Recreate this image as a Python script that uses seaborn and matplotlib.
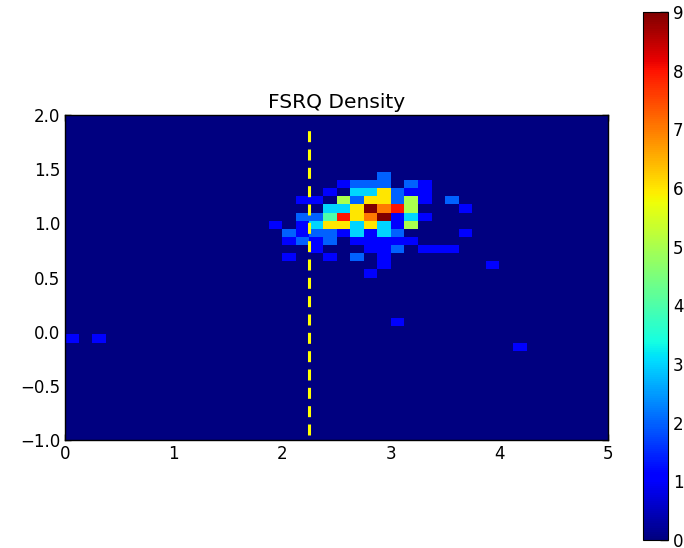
import matplotlib
matplotlib.use("Agg")
import matplotlib.pyplot as plt
import seaborn as sns

# bin centres of the non-empty cells and their counts, row by row (top to bottom)
x_vals = [2.9375,
          2.5625, 2.6875, 2.8125, 2.9375, 3.1875, 3.3125,
          2.4375, 2.6875, 2.8125, 2.9375, 3.0625, 3.1875, 3.3125,
          2.1875, 2.3125, 2.5625, 2.6875, 2.8125, 2.9375, 3.0625, 3.1875, 3.3125, 3.5625,
          2.4375, 2.5625, 2.6875, 2.8125, 2.9375, 3.0625, 3.1875, 3.6875,
          2.1875, 2.3125, 2.4375, 2.5625, 2.6875, 2.8125, 2.9375, 3.0625, 3.1875, 3.3125,
          1.9375, 2.1875, 2.3125, 2.4375, 2.5625, 2.6875, 2.8125, 2.9375, 3.0625, 3.1875,
          2.0625, 2.1875, 2.3125, 2.4375, 2.5625, 2.6875, 2.8125, 2.9375, 3.0625, 3.6875,
          2.0625, 2.1875, 2.3125, 2.4375, 2.6875, 2.8125, 2.9375, 3.0625, 3.1875,
          2.3125, 2.8125, 2.9375, 3.0625, 3.3125, 3.4375, 3.5625,
          2.0625, 2.4375, 2.6875, 2.9375,
          2.9375, 3.9375,
          2.8125,
          3.0625,
          0.0625, 0.3125,
          4.1875]
y_vals = [1.4375,
          1.3625, 1.3625, 1.3625, 1.3625, 1.3625, 1.3625,
          1.2875, 1.2875, 1.2875, 1.2875, 1.2875, 1.2875, 1.2875,
          1.2125, 1.2125, 1.2125, 1.2125, 1.2125, 1.2125, 1.2125, 1.2125, 1.2125, 1.2125,
          1.1375, 1.1375, 1.1375, 1.1375, 1.1375, 1.1375, 1.1375, 1.1375,
          1.0625, 1.0625, 1.0625, 1.0625, 1.0625, 1.0625, 1.0625, 1.0625, 1.0625, 1.0625,
          0.9875, 0.9875, 0.9875, 0.9875, 0.9875, 0.9875, 0.9875, 0.9875, 0.9875, 0.9875,
          0.9125, 0.9125, 0.9125, 0.9125, 0.9125, 0.9125, 0.9125, 0.9125, 0.9125, 0.9125,
          0.8375, 0.8375, 0.8375, 0.8375, 0.8375, 0.8375, 0.8375, 0.8375, 0.8375,
          0.7625, 0.7625, 0.7625, 0.7625, 0.7625, 0.7625, 0.7625,
          0.6875, 0.6875, 0.6875, 0.6875,
          0.6125, 0.6125,
          0.5375,
          0.0875,
          -0.0625, -0.0625,
          -0.1375]
counts = [2,
          1, 2, 2, 2, 2, 1,
          1, 3, 3, 6, 2, 1, 1,
          1, 1, 5, 2, 6, 6, 2, 5, 1, 2,
          3, 3, 6, 9, 7, 8, 5, 1,
          2, 2, 4, 8, 6, 7, 9, 1, 3, 1,
          1, 1, 3, 6, 6, 3, 6, 3, 1, 5,
          2, 1, 2, 2, 1, 3, 1, 3, 2, 1,
          1, 2, 1, 2, 1, 1, 1, 1, 1,
          1, 1, 1, 2, 1, 1, 1,
          1, 1, 2, 1,
          1, 1,
          1,
          1,
          1, 1,
          1]

x_range = (0, 5)
y_range = (-1, 2)
n_bins = 40
cut_x = [2.25, 2.25]
cut_y = [-0.95, 1.9]

sns.set_style("ticks", {"axes.edgecolor": "black", "text.color": "black",
                        "xtick.color": "black", "ytick.color": "black",
                        "xtick.direction": "in", "ytick.direction": "in",
                        "xtick.top": True, "ytick.right": True})
plt.rcParams["font.family"] = ["DejaVu Sans"]

fig = plt.figure(figsize=(6.84, 5.48), dpi=100)
ax = fig.add_axes([0.095, 0.197, 0.794, 0.593])
cax = fig.add_axes([0.940, 0.0146, 0.0365, 0.9635])

sns.histplot(x=x_vals, y=y_vals, weights=counts, bins=n_bins,
             binrange=(x_range, y_range), thresh=None,
             cmap=matplotlib.colormaps["jet"], ax=ax)
mesh = ax.collections[0]
mesh.set_clim(0, 9)

ax.plot(cut_x, cut_y, color="yellow", lw=2.2, linestyle=(0, (3.6, 2.4)))

ax.set_xlim(*x_range)
ax.set_ylim(*y_range)
ax.set_xticks([0, 1, 2, 3, 4, 5])
ax.set_yticks([-1.0, -0.5, 0.0, 0.5, 1.0, 1.5, 2.0])
ax.set_yticklabels(["\u22121.0", "\u22120.5", "0.0", "0.5", "1.0", "1.5", "2.0"])
ax.tick_params(labelsize=12, length=4, width=1, color="black", top=True, right=True)
ax.set_title("FSRQ Density", fontsize=14.5, pad=5)
for s in ax.spines.values():
    s.set_linewidth(1)
    s.set_color("black")

cb = fig.colorbar(mesh, cax=cax, ticks=range(10))
cb.outline.set_edgecolor("black")
cax.tick_params(direction="in", labelsize=12, length=6, width=1, color="black")

fig.savefig("out.png", dpi=100)
